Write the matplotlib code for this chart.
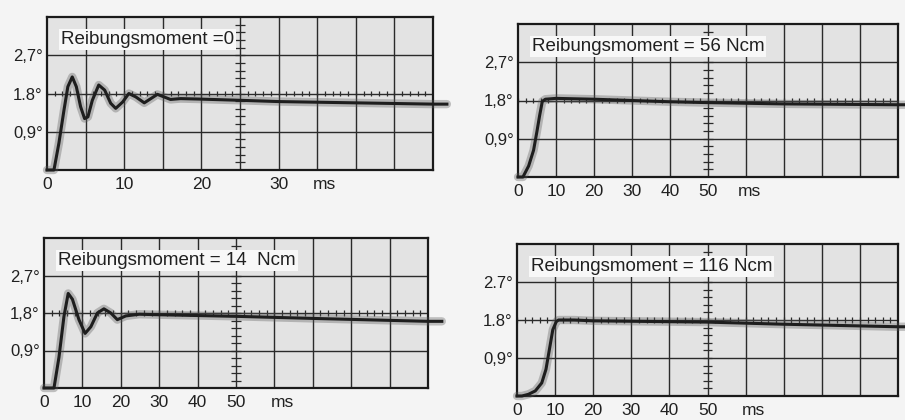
import numpy as np
import matplotlib.pyplot as plt

plt.rcParams['font.family'] = ['Liberation Sans', 'DejaVu Sans']

# Reibungsmoment = 0  (0..50 ms)
t0 = [0, 0.9, 1.54, 2.2, 2.7, 3.27, 3.8, 4.35, 4.87, 5.3, 5.87, 6.7, 7.47, 8.25, 8.9, 9.8,
      10.6, 11.5, 12.6, 13.45, 14.3, 16.0, 17.3, 19.5, 25, 30, 40, 50, 51.8]
y0 = [0, 0, 0.63, 1.41, 1.96, 2.19, 1.96, 1.49, 1.21, 1.25, 1.64, 2.0, 1.88, 1.57, 1.45, 1.6,
      1.8, 1.72, 1.58, 1.68, 1.78, 1.66, 1.68, 1.67, 1.64, 1.61, 1.58, 1.55, 1.55]

# Reibungsmoment = 56 Ncm  (0..100 ms)
t56 = [0, 1.3, 2.8, 4.1, 5.0, 5.7, 6.4, 7.2, 10, 20, 30, 40, 50, 70, 100, 102]
y56 = [0, 0, 0.26, 0.63, 1.08, 1.45, 1.78, 1.83, 1.85, 1.83, 1.8, 1.77, 1.75, 1.72, 1.7, 1.7]

# Reibungsmoment = 14 Ncm  (0..100 ms)
t14 = [0, 2.6, 3.9, 5.2, 6.3, 7.4, 9.1, 10.7, 12.2, 13.9, 15.6, 17.4, 19.1, 21.3, 24.8, 29.1,
       50, 70, 100, 103.6]
y14 = [0, 0, 0.74, 1.72, 2.27, 2.13, 1.64, 1.31, 1.47, 1.8, 1.9, 1.8, 1.64, 1.73, 1.77, 1.76,
       1.72, 1.67, 1.6, 1.6]

# Reibungsmoment = 116 Ncm  (0..100 ms)
t116 = [0, 1.3, 3.0, 4.8, 6.5, 7.6, 8.5, 9.4, 10.3, 10.9, 15, 20, 30, 50, 70, 100, 102]
y116 = [0, 0, 0.04, 0.12, 0.31, 0.63, 1.1, 1.57, 1.76, 1.8, 1.8, 1.78, 1.77, 1.75, 1.7, 1.64, 1.64]

titles = ["Reibungsmoment =0", "Reibungsmoment = 56 Ncm",
          "Reibungsmoment = 14  Ncm", "Reibungsmoment = 116 Ncm"]
tmaxes = [50, 100, 100, 100]
xlabels = [[0, 10, 20, 30], [0, 10, 20, 30, 40, 50], [0, 10, 20, 30, 40, 50], [0, 10, 20, 30, 40, 50]]
ylabels = [["0,9°", "1.8°", "2,7°"], ["0,9°", "1,8°", "2,7°"],
           ["0,9°", "1,8°", "2,7°"], ["0,9°", "1.8°", "2.7°"]]
ms_pos = [36, 61, 62, 62]
traces = [(t0, y0), (t56, y56), (t14, y14), (t116, y116)]

# panel frames in pixels: left, top, right, bottom
frames = [(47, 17, 433, 170), (518, 24, 898, 177), (44, 238, 428, 388), (517, 244, 898, 396)]

W, H = 905, 420
fig = plt.figure(figsize=(W / 100, H / 100), dpi=100, facecolor='#f4f4f4')

for i in range(4):
    l, t, r, b = frames[i]
    ax = fig.add_axes([l / W, 1 - b / H, (r - l) / W, (b - t) / H])
    ax.set_facecolor('#e3e3e3')
    tmax = tmaxes[i]
    ax.set_xlim(0, tmax)
    ax.set_ylim(0, 3.6)

    # graticule
    for x in np.arange(1, 10) * tmax / 10:
        ax.axvline(x, color='#2b2b2b', lw=1.0, zorder=1)
    for y in [0.9, 1.8, 2.7]:
        ax.axhline(y, color='#2b2b2b', lw=1.0, zorder=1)
    ax.vlines(np.arange(0, tmax, tmax / 50), 1.8 - 0.07, 1.8 + 0.07, color='#2b2b2b', lw=0.9, zorder=1)
    ax.hlines(np.arange(0.18, 3.6, 0.18), tmax / 2 - tmax * 0.012, tmax / 2 + tmax * 0.012,
              color='#2b2b2b', lw=0.9, zorder=1)

    # trace
    tt, yy = traces[i]
    ax.plot(tt, yy, color='#5a5a5a', lw=6, alpha=0.35, zorder=3, clip_on=False,
            solid_capstyle='round', solid_joinstyle='round')
    ax.plot(tt, yy, color='#1e1e1e', lw=2.2, zorder=4, clip_on=False,
            solid_joinstyle='round')

    for s in ax.spines.values():
        s.set_linewidth(1.6)
        s.set_color('#1a1a1a')

    ax.set_xticks(xlabels[i])
    ax.set_xticklabels([str(v) for v in xlabels[i]], fontsize=12.5, color='#202020')
    ax.set_yticks([0.9, 1.8, 2.7])
    ax.set_yticklabels(ylabels[i], fontsize=12, color='#202020')
    ax.tick_params(axis='x', length=0, pad=5)
    ax.tick_params(axis='y', length=0, pad=3)
    ax.annotate("ms", xy=(ms_pos[i], 0), xycoords=('data', 'axes fraction'),
                xytext=(0, -5), textcoords='offset points', fontsize=12.5, color='#202020',
                ha='center', va='top', annotation_clip=False)

    ax.text(tmax * 0.036, 3.07, titles[i], fontsize=13.5, color='#202020', ha='left', va='center',
            zorder=5, bbox=dict(facecolor='#f8f8f8', edgecolor='none', pad=1.5))

fig.savefig("out.png", dpi=100, facecolor=fig.get_facecolor())
